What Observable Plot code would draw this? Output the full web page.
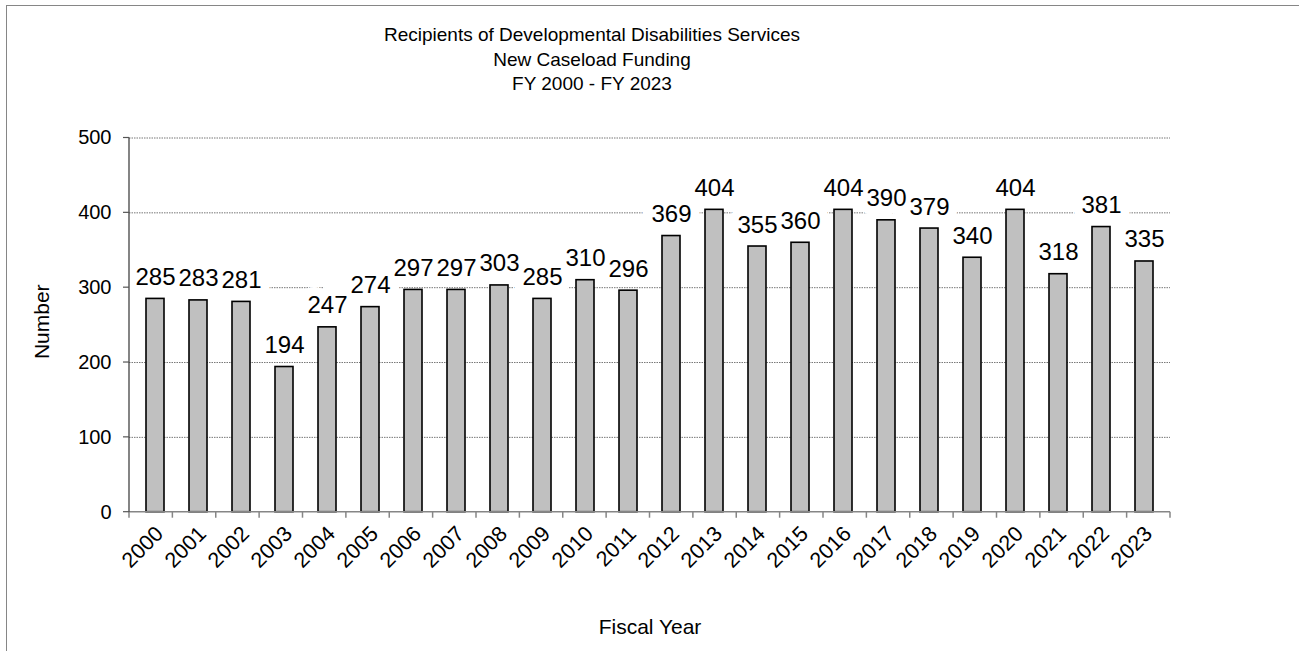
<!DOCTYPE html>
<html><head><meta charset="utf-8">
<script src="https://cdn.jsdelivr.net/npm/d3@7"></script>
<script src="https://cdn.jsdelivr.net/npm/@observablehq/plot@0.6"></script>
<style>
body{margin:0;background:#fff;font-family:"Liberation Sans",Arial,sans-serif;}
#wrap{position:relative;width:1299px;height:651px;overflow:hidden;background:#fff;}
#frame{position:absolute;left:6px;top:5px;width:1400px;height:700px;border-left:1.5px solid #868686;border-top:1.5px solid #868686;}
#chart{position:absolute;left:0;top:0;}
#title{position:absolute;left:0;width:1184px;top:23px;text-align:center;font-size:19px;line-height:24.5px;color:#000;}
</style></head>
<body><div id="wrap"><div id="frame"></div><div id="chart"></div>
<div id="title">Recipients of Developmental Disabilities Services<br>New Caseload Funding<br>FY 2000 - FY 2023</div></div>
<script>
const years = ["2000","2001","2002","2003","2004","2005","2006","2007","2008","2009","2010","2011","2012","2013","2014","2015","2016","2017","2018","2019","2020","2021","2022","2023"];
const recipients = [285,283,281,194,247,274,297,297,303,285,310,296,369,404,355,360,404,390,379,340,404,318,381,335];
const yTicks = [0,100,200,300,400,500];
const xTitle = "Fiscal Year";
const yTitle = "Number";

const data = years.map((y,i)=>({year:y, value:recipients[i]}));
const FONT = '"Liberation Sans", Arial, sans-serif';

function xBoundaryTicks(index, scales, values, dims) {
  const g = d3.create("svg:g");
  const x0 = dims.marginLeft, x1 = dims.width - dims.marginRight;
  const step = (x1 - x0) / years.length;
  const yb = dims.height - dims.marginBottom;
  for (let i = 0; i <= years.length; i++) {
    g.append("line").attr("x1", x0 + i*step).attr("x2", x0 + i*step)
      .attr("y1", yb).attr("y2", yb + 6).attr("stroke", "#868686").attr("stroke-width", 1.5);
  }
  g.append("line").attr("x1", x0).attr("x2", x1).attr("y1", yb).attr("y2", yb)
    .attr("stroke", "#868686").attr("stroke-width", 1.5);
  return g.node();
}
function yAxisLine(index, scales, values, dims) {
  const g = d3.create("svg:g");
  const x0 = dims.marginLeft;
  g.append("line").attr("x1", x0).attr("x2", x0)
    .attr("y1", scales.y(500)).attr("y2", scales.y(0)).attr("stroke", "#333").attr("stroke-width", 1.2);
  for (const t of yTicks) {
    g.append("line").attr("x1", x0 - 6).attr("x2", x0).attr("y1", scales.y(t)).attr("y2", scales.y(t))
      .attr("stroke", "#555").attr("stroke-width", 1.2);
  }
  return g.node();
}

const chart = Plot.plot({
  width: 1299, height: 651,
  marginLeft: 129, marginRight: 129, marginTop: 137.5, marginBottom: 139.3,
  style: {fontFamily: FONT, fontSize: "20px", background: "transparent", overflow: "visible", color: "#000"},
  x: {domain: years, paddingInner: 0.57, paddingOuter: 0.285, axis: null},
  y: {domain: [0, 500], axis: null},
  marks: [
    Plot.ruleY(yTicks.filter(t => t > 0), {y: d => d, stroke: "#777", strokeDasharray: "1.5,1", strokeWidth: 1}),
    Plot.text(data, {x: "year", y: "value", text: d => String(d.value), lineAnchor: "bottom", dy: -14,
      fontSize: 24, fill: "white", stroke: "white", strokeWidth: 18, strokeLinejoin: "miter"}),
    Plot.barY(data, {x: "year", y: "value", fill: "#c0c0c0", stroke: "#000", strokeWidth: 1.6}),
    Plot.text(data, {x: "year", y: "value", text: d => String(d.value), lineAnchor: "bottom", dy: -14,
      fontSize: 24, fill: "#000"}),
    xBoundaryTicks,
    yAxisLine,
    Plot.text(yTicks, {y: d => d, frameAnchor: "left", dx: -18, textAnchor: "end", text: d => String(d), fontSize: 20, fill: "#000"}),
    Plot.text(years, {x: d => d, frameAnchor: "bottom", dy: 18, dx: 4, rotate: -45, textAnchor: "end", lineAnchor: "middle", text: d => d, fontSize: 21.5, fill: "#000"}),
    Plot.text([yTitle], {frameAnchor: "left", dx: -87, dy: 34, rotate: -90, text: d => d, fontSize: 21, fill: "#000"}),
    Plot.text([xTitle], {frameAnchor: "bottom", dy: 122, text: d => d, fontSize: 21, fill: "#000"})
  ]
});
document.getElementById("chart").appendChild(chart);
</script>
</body></html>
